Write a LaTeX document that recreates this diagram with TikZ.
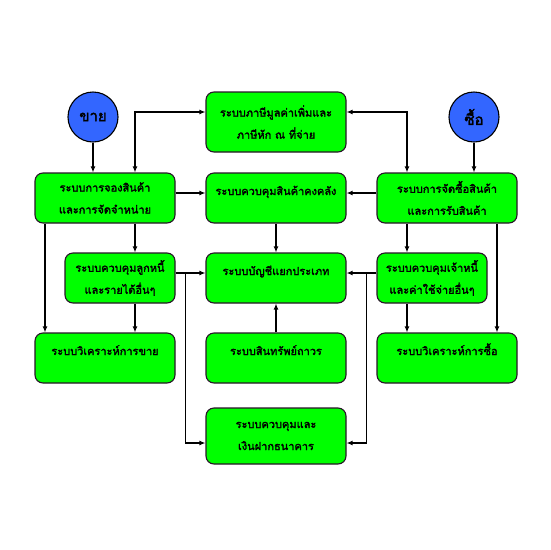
\documentclass[tikz,border=0pt]{standalone}
\usepackage{fontspec}
\newfontfamily\thaifont[Script=Thai,AutoFakeBold=2.2]{Loma}
\usetikzlibrary{arrows.meta}
\definecolor{boxgreen}{RGB}{0,255,0}
\definecolor{dotblue}{RGB}{51,102,255}
\definecolor{edge}{RGB}{40,20,40}

\begin{document}
\begin{tikzpicture} [x=1pt,y=-1pt,
  sysbox/.style={draw=edge,fill=boxgreen,rounded corners=8pt,line width=1.1pt,
    minimum width=140pt,minimum height=50pt,inner sep=0pt,align=center,
    font=\thaifont\bfseries\fontsize{11}{22}\selectfont},
  oneline/.style={text height=9pt,text depth=15pt},
  endpoint/.style={circle,draw=black,fill=dotblue,line width=1.1pt,minimum size=50pt,
    inner sep=0pt,font=\thaifont\bfseries\fontsize{15}{17}\selectfont},
  link/.style={-{Latex[length=6pt,width=5pt]},line width=1.2pt},
  duallink/.style={{Latex[length=6pt,width=5pt]}-{Latex[length=6pt,width=5pt]},line width=1.2pt}]

\useasboundingbox (0,0) rectangle (550,550);

% the two start points
\node[endpoint] (sale) at (93,117) {ขาย};
\node[endpoint] (buy) at (474,117) {ซื้อ};

% centre column
\node[sysbox,minimum height=60pt] (vat) at (276,122) {ระบบภาษีมูลค่าเพิ่มและ\\ภาษีหัก ณ ที่จ่าย};
\node[sysbox,oneline] (stock) at (276,198) {ระบบควบคุมสินค้าคงคลัง};
\node[sysbox,oneline] (gl) at (276,278) {ระบบบัญชีแยกประเภท};
\node[sysbox,oneline] (asset) at (276,358) {ระบบสินทรัพย์ถาวร};
\node[sysbox,minimum height=56pt] (bank) at (276,436) {ระบบควบคุมและ\\เงินฝากธนาคาร};

% sales side
\node[sysbox] (book) at (105,198) {ระบบการจองสินค้า\\และการจัดจำหน่าย};
\node[sysbox,minimum width=110pt] (ar) at (120,278) {ระบบควบคุมลูกหนี้\\และรายได้อื่นๆ};
\node[sysbox,oneline] (salean) at (105,358) {ระบบวิเคราะห์การขาย};

% purchase side
\node[sysbox] (purch) at (447,198) {ระบบการจัดซื้อสินค้า\\และการรับสินค้า};
\node[sysbox,minimum width=110pt] (ap) at (432,278) {ระบบควบคุมเจ้าหนี้\\และค่าใช้จ่ายอื่นๆ};
\node[sysbox,oneline] (buyan) at (447,358) {ระบบวิเคราะห์การซื้อ};

\draw[link] (sale) -- (sale |- book.north);
\draw[link] (buy) -- (buy |- purch.north);

\draw[duallink] ([yshift=10pt]vat.west) -| ([xshift=30pt]book.north);
\draw[duallink] ([yshift=10pt]vat.east) -| ([xshift=-40pt]purch.north);

\draw[link] ([yshift=5pt]book.east) -- ([yshift=5pt]stock.west);
\draw[link] ([yshift=5pt]purch.west) -- ([yshift=5pt]stock.east);
\draw[link] (stock) -- (gl);
\draw[link] (asset) -- (gl);

\draw[link] ([xshift=30pt]book.south) -- ([xshift=15pt]ar.north);
\draw[link] ([xshift=-60pt]book.south) -- ([xshift=-60pt]salean.north);
\draw[link] ([xshift=15pt]ar.south) -- ([xshift=30pt]salean.north);
\draw[link] ([yshift=5pt]ar.east) -- ([yshift=5pt]gl.west);
\draw[link] ([xshift=10pt,yshift=5pt]ar.east) |- ([yshift=-7pt]bank.west);

\draw[link] ([xshift=-40pt]purch.south) -- ([xshift=-25pt]ap.north);
\draw[link] ([xshift=50pt]purch.south) -- ([xshift=50pt]buyan.north);
\draw[link] ([xshift=-25pt]ap.south) -- ([xshift=-40pt]buyan.north);
\draw[link] ([yshift=5pt]ap.west) -- ([yshift=5pt]gl.east);
\draw[link] ([xshift=-10pt,yshift=5pt]ap.west) |- ([yshift=-7pt]bank.east);

\end{tikzpicture}
\end{document}
